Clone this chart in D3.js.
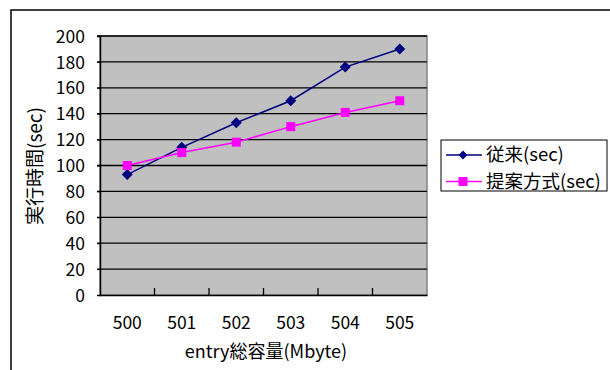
<!DOCTYPE html>
<html><head><meta charset="utf-8">
<script src="https://cdn.jsdelivr.net/npm/d3@7"></script>
<style>body{margin:0;background:#fff}svg{display:block}text{font-family:"Noto Sans CJK JP","Noto Sans",sans-serif;fill:#000}</style>
</head><body><svg id="c" width="610" height="370"></svg>
<script>
const categories = ["500","501","502","503","504","505"];
const seriesNames = ["従来(sec)","提案方式(sec)"];
const conventional = [93,114,133,150,176,190];
const proposed = [100,110,118,130,141,150];
const yTicks = [0,20,40,60,80,100,120,140,160,180,200];
const xTitle = "entry総容量(Mbyte)";
const yTitle = "実行時間(sec)";

const svg = d3.select("#c");
const L=100, T=36, R=427, B=295;
svg.append("rect").attr("x",11).attr("y",10).attr("width",700).attr("height",500)
  .attr("fill","#fff").attr("stroke","#000").attr("stroke-width",1.5);

const x = d3.scaleBand().domain(categories).range([L,R]);
const y = d3.scaleLinear().domain([0,200]).range([B,T]);

svg.append("rect").attr("x",L).attr("y",T).attr("width",R-L).attr("height",B-T)
  .attr("fill","#c0c0c0").attr("stroke","#808080").attr("stroke-width",1.5);

// gridlines
svg.append("g").selectAll("line").data(yTicks.filter(d=>d>0)).join("line")
  .attr("x1",L-3).attr("x2",R).attr("y1",d=>y(d)).attr("y2",d=>y(d))
  .attr("stroke","#000").attr("stroke-width",1.3);

// y axis
const ya = svg.append("g").attr("transform",`translate(${L},0)`)
  .call(d3.axisLeft(y).tickValues(yTicks).tickSize(3).tickPadding(12));
ya.select(".domain").attr("stroke","#000").attr("stroke-width",1.5);
ya.selectAll("text").attr("font-size",17.5).attr("dy","0.35em");

// x axis
const xa = svg.append("g").attr("transform",`translate(0,${B})`)
  .call(d3.axisBottom(x).tickSize(0).tickPadding(20));
xa.select(".domain").attr("stroke","#000").attr("stroke-width",1.5);
xa.selectAll("text").attr("font-size",17.5).attr("dy","0.8em");
// inward category boundary ticks
svg.append("g").selectAll("line").data(categories.slice(1)).join("line")
  .attr("x1",d=>x(d)).attr("x2",d=>x(d)).attr("y1",B).attr("y2",B-7)
  .attr("stroke","#000").attr("stroke-width",1.3);

// titles
svg.append("text").attr("x",266).attr("y",352).attr("dy","0.35em").attr("text-anchor","middle")
  .attr("font-size",18).text(xTitle);
svg.append("text").attr("transform","translate(35,166) rotate(-90)").attr("dy","0.35em").attr("text-anchor","middle")
  .attr("font-size",19).text(yTitle);

const cx = d=>x(d)+x.bandwidth()/2;
const line = d3.line().x((d,i)=>cx(categories[i])).y(d=>y(d));
const diamond = "M0,-5.5L5.5,0L0,5.5L-5.5,0Z";

svg.append("path").datum(conventional).attr("d",line).attr("fill","none").attr("stroke","#000080").attr("stroke-width",1.5);
svg.append("path").datum(proposed).attr("d",line).attr("fill","none").attr("stroke","#ff00ff").attr("stroke-width",1.5);
svg.append("g").selectAll("path").data(conventional).join("path")
  .attr("transform",(d,i)=>`translate(${cx(categories[i])},${y(d)})`).attr("d",diamond).attr("fill","#000080");
svg.append("g").selectAll("rect").data(proposed).join("rect")
  .attr("x",(d,i)=>cx(categories[i])-4.5).attr("y",d=>y(d)-4.5).attr("width",9).attr("height",9).attr("fill","#ff00ff");

// legend
const lg = svg.append("g");
lg.append("rect").attr("x",441).attr("y",140).attr("width",166).attr("height",51)
  .attr("fill","#fff").attr("stroke","#000").attr("stroke-width",1);
const colors=["#000080","#ff00ff"];
seriesNames.forEach((n,i)=>{
  const yy = 155 + i*26.5;
  lg.append("line").attr("x1",446).attr("x2",482).attr("y1",yy).attr("y2",yy).attr("stroke",colors[i]).attr("stroke-width",1.5);
  if(i===0) lg.append("path").attr("transform",`translate(463,${yy})`).attr("d","M0,-4.5L4.5,0L0,4.5L-4.5,0Z").attr("fill",colors[i]);
  else lg.append("rect").attr("x",458.5).attr("y",yy-4.5).attr("width",9).attr("height",9).attr("fill",colors[i]);
  lg.append("text").attr("x",486).attr("y",yy).attr("dy","0.35em").attr("font-size",18.5).text(n);
});
</script></body></html>
